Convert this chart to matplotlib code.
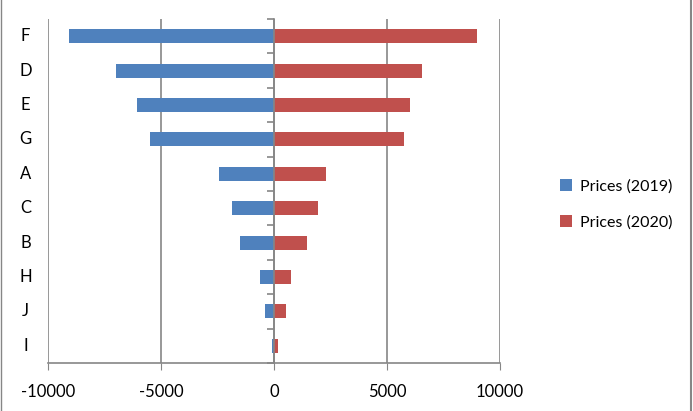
import numpy as np
import matplotlib.pyplot as plt
import matplotlib.transforms as mtransforms
from matplotlib.lines import Line2D

plt.rcParams['font.family'] = ['Lato', 'DejaVu Sans']

# datos
categories = ["F", "D", "E", "G", "A", "C", "B", "H", "J", "I"]
prices_2019 = [-9080, -7000, -6050, -5480, -2450, -1880, -1520, -630, -410, -70]
prices_2020 = [9000, 6530, 6000, 5740, 2290, 1930, 1450, 740, 520, 160]
xticks = [-10000, -5000, 0, 5000, 10000]

blue = "#4F81BD"
red = "#C0504D"
gray = "#868686"

fig = plt.figure(figsize=(6.93, 4.11), dpi=100)
ax = fig.add_axes([48/693, 48/411, 452/693, 344/411])

y = np.arange(len(categories))
ax.barh(y, prices_2019, height=0.41, color=blue, label="Prices (2019)")
ax.barh(y, prices_2020, height=0.41, color=red, label="Prices (2020)")

ax.set_xlim(-10000, 10000)
ax.set_ylim(len(categories) - 0.5, -0.5)

# eje x abajo con marcas hacia afuera
ax.set_xticks(xticks)
ax.set_xticklabels([str(v) for v in xticks], fontsize=12)
ax.tick_params(axis="x", direction="out", length=5, color=gray, pad=10)
ax.grid(axis="x", color=gray, linewidth=1.2)
ax.set_axisbelow(True)

# eje y en el cero, marcas en los limites de cada categoria
ax.spines["left"].set_position(("data", 0))
ax.spines["left"].set_color(gray)
ax.spines["left"].set_linewidth(1.2)
ax.spines["left"].set_zorder(3)
ax.spines["bottom"].set_color(gray)
ax.spines["bottom"].set_linewidth(1.2)
ax.spines["top"].set_visible(False)
ax.spines["right"].set_visible(False)
ax.set_yticks(y)
ax.set_yticklabels([])
ax.tick_params(axis="y", which="major", length=0)
ax.set_yticks(np.arange(len(categories) + 1) - 0.5, minor=True)
ax.tick_params(axis="y", which="minor", direction="out", length=5, color=gray, width=1.2)

# etiquetas de categoria a la izquierda del grafico
trans = mtransforms.blended_transform_factory(ax.transAxes, ax.transData)
for i, c in enumerate(categories):
    ax.text(-0.05, i, c, transform=trans, ha="center", va="center", fontsize=12)

ax.legend(loc="center left", bbox_to_anchor=(1.1, 0.462), frameon=False,
          fontsize=11.5, handlelength=0.75, handleheight=0.75, handletextpad=0.5,
          labelspacing=1.35)

# borde de la imagen
fig.add_artist(Line2D([0.9964, 0.9964], [0, 1], color=gray, linewidth=1.5))
fig.add_artist(Line2D([0.001, 0.001], [0, 1], color=gray, linewidth=1.0))

plt.savefig("out.png")
plt.close()
